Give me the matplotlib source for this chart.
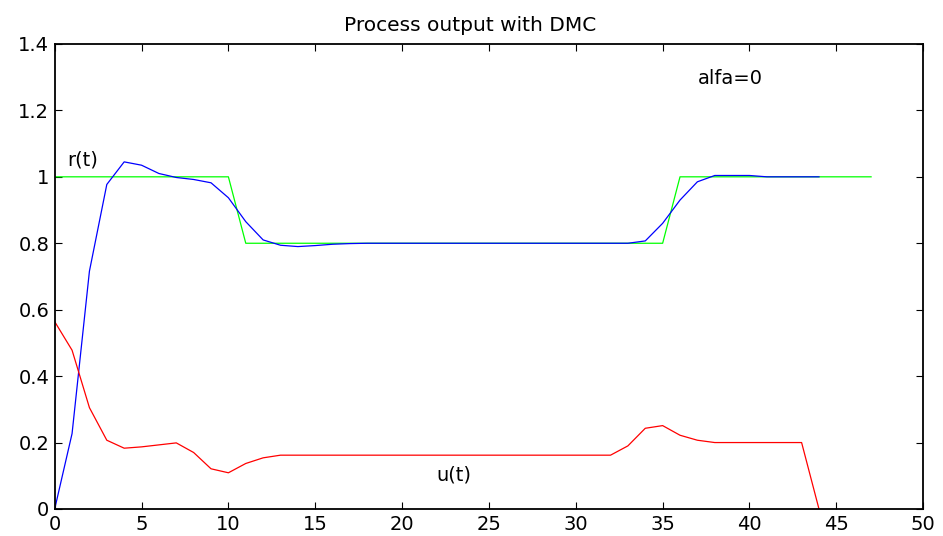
import numpy as np
import matplotlib.pyplot as plt

# reference r(t), output y(t) and control u(t), sampled at integer steps
r_t = np.arange(0, 48)
r_vals = [1.0] * 11 + [0.8] * 25 + [1.0] * 12

y_t = np.arange(0, 45)
y_vals = [0.0, 0.227, 0.716, 0.977, 1.045, 1.035, 1.01, 0.998, 0.992, 0.982,
          0.937, 0.865, 0.81, 0.794, 0.79, 0.793, 0.797, 0.799, 0.8, 0.8,
          0.8, 0.8, 0.8, 0.8, 0.8, 0.8, 0.8, 0.8, 0.8, 0.8,
          0.8, 0.8, 0.8, 0.8, 0.807, 0.86, 0.93, 0.985, 1.004, 1.004,
          1.004, 1.0, 1.0, 1.0, 1.0]

u_t = np.arange(0, 45)
u_vals = [0.564, 0.478, 0.305, 0.207, 0.183, 0.187, 0.193, 0.199, 0.17, 0.121,
          0.109, 0.137, 0.154, 0.162, 0.162, 0.162, 0.162, 0.162, 0.162, 0.162,
          0.162, 0.162, 0.162, 0.162, 0.162, 0.162, 0.162, 0.162, 0.162, 0.162,
          0.162, 0.162, 0.162, 0.19, 0.243, 0.251, 0.222, 0.207, 0.2, 0.2,
          0.2, 0.2, 0.2, 0.2, 0.0]

plt.rcParams['font.family'] = ['DejaVu Sans']

fig = plt.figure(figsize=(9.43, 5.36), dpi=100)
ax = fig.add_axes([0.058, 0.0504, 0.921, 0.8676])

ax.plot(r_t, r_vals, color='#00ff00', lw=0.9)
ax.plot(y_t, y_vals, color='#0000ff', lw=0.9)
ax.plot(u_t, u_vals, color='#ff0000', lw=0.9)

ax.set_xlim(0, 50)
ax.set_ylim(0, 1.4)
ax.set_xticks(np.arange(0, 51, 5))
ax.set_yticks(np.arange(0, 1.41, 0.2))
ax.set_yticklabels(['0', '0.2', '0.4', '0.6', '0.8', '1', '1.2', '1.4'])

ax.tick_params(direction='in', length=5, width=0.8, top=True, right=True,
               labelsize=14, pad=4)
for s in ax.spines.values():
    s.set_linewidth(1.3)

ax.text(0.7, 1.035, 'r(t)', fontsize=14)
ax.text(22.0, 0.085, 'u(t)', fontsize=14)
ax.text(37.0, 1.28, 'alfa=0', fontsize=14)

title = ax.set_title('Process output with DMC', fontsize=14.5, pad=9)
title.set_x(0.478)

fig.savefig('out.png', dpi=100)
